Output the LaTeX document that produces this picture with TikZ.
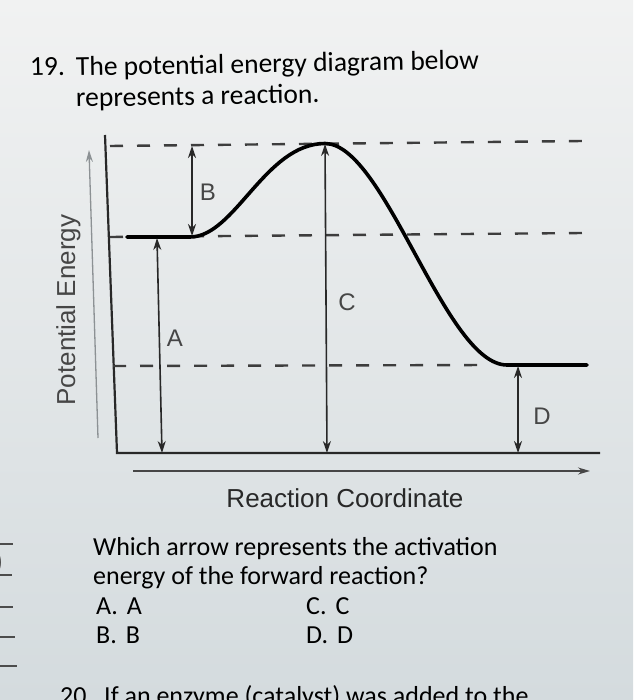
\documentclass[tikz,border=0pt]{standalone}
\usepackage{fontspec}
\setmainfont{Carlito}
\newfontfamily\arial{Liberation Sans}
\usetikzlibrary{arrows.meta}
\definecolor{fondhaut}{RGB}{241,242,242}
\definecolor{fondbas}{RGB}{212,219,222}
\definecolor{trait}{RGB}{40,40,40}
\definecolor{gris}{RGB}{70,70,70}
\definecolor{grisclair}{RGB}{140,145,148}
\begin{document}
\begin{tikzpicture}[x=1pt,y=-1pt,
  axe/.style={draw=trait,line width=2.2pt},
  niveau/.style={draw=trait!90,line width=2.4pt,dash pattern=on 13pt off 14pt},
  fleche/.style={draw=trait,line width=1.6pt,{Stealth[length=12pt,width=8pt]}-{Stealth[length=12pt,width=8pt]}},
  lettre/.style={font=\arial\fontsize{24}{24}\selectfont,text=gris},
  legende/.style={font=\arial\fontsize{26}{26}\selectfont,text=trait,anchor=base,inner sep=0pt},
  titre/.style={font=\fontsize{27.5}{31}\selectfont,text=black,anchor=base west,inner sep=0pt,rotate=1},
  question/.style={font=\fontsize{26}{29}\selectfont,text=black,anchor=base west,inner sep=0pt},
  marque/.style={draw=black!70,line width=1.2pt}]
\clip (0,0) rectangle (633,700);
\shade[top color=fondhaut,bottom color=fondbas] (0,0) rectangle (633,700);

% enonce
\node[titre] (num) at (30,76) {19.};
\node[titre] (ligne1) at (76,76) {The potential energy diagram below};
\node[titre] (ligne2) at (76,107) {represents a reaction.};

% les axes
\coordinate (haut) at (105,135);
\coordinate (origine) at (117,453);
\coordinate (finx) at (600,453);
\draw[axe] (haut) -- (origine) -- (finx);
\coordinate (ybas) at (98,438);
\coordinate (yhaut) at (89,150);
\draw[draw=grisclair,line width=1.3pt,-{Stealth[length=12pt,width=7pt]}] (ybas) -- (yhaut);
\coordinate (xdebut) at (133,471);
\coordinate (xfin) at (590,471);
\draw[draw=gris,line width=1.5pt,-{Stealth[length=12pt,width=7pt]}] (xdebut) -- (xfin);
\node[legende,rotate=90,text=gris] (pe) at (75,310) {Potential Energy};
\node[legende] (rc) at (345,507) {Reaction Coordinate};

% niveaux d'energie
\draw[niveau] (110,146) -- (583,141); % sommet
\draw[niveau] (110,237) -- (583,233); % reactifs
\draw[niveau] (113,366) -- (490,365); % produits

% la courbe
\coordinate (r0) at (127,237);
\coordinate (r1) at (190,237);
\coordinate (pic) at (325,143.5);
\coordinate (p0) at (507,365);
\coordinate (p1) at (587,365);
\draw[black,line width=3.6pt,line cap=round] (r0) -- (r1)
  .. controls (235,237) and (265,143.5) .. (pic)
  .. controls (385,143.5) and (445,365) .. (p0) -- (p1);

% les fleches
\coordinate (bhaut) at (192,146);
\coordinate (bbas) at (192,236);
\coordinate (ahaut) at (157,238);
\coordinate (abas) at (162,453);
\coordinate (chaut) at (325,144);
\coordinate (cbas) at (327,453);
\coordinate (dhaut) at (518,366);
\coordinate (dbas) at (518,453);
\draw[fleche] (bhaut) -- (bbas);
\draw[fleche] (ahaut) -- (abas);
\draw[fleche] (chaut) -- (cbas);
\draw[fleche] (dhaut) -- (dbas);
\node[lettre] (lb) at (208,192) {B};
\node[lettre] (la) at (175,338) {A};
\node[lettre] (lc) at (347,302) {C};
\node[lettre] (ld) at (542,416) {D};

% question
\node[question] (q1) at (93,555) {Which arrow represents the activation};
\node[question] (q2) at (93,584) {energy of the forward reaction?};
\node[question] (repa) at (96,614) {A.\hspace{9pt}A};
\node[question] (repb) at (96,643) {B.\hspace{9pt}B};
\node[question] (repc) at (306,614) {C.\hspace{9pt}C};
\node[question] (repd) at (306,643) {D.\hspace{9pt}D};
\node[question] (num20) at (60,704) {20.};
\node[question] (q20) at (104,704) {If an enzyme (catalyst) was added to the};

% marge
\node[question,text=black!70] (par) at (-5,570) {)};
\foreach \y/\l in {544/13,575/12,607/13,637/15,666/17}
  \draw[marque] (0,\y) -- (\l,\y);
\end{tikzpicture}
\end{document}
